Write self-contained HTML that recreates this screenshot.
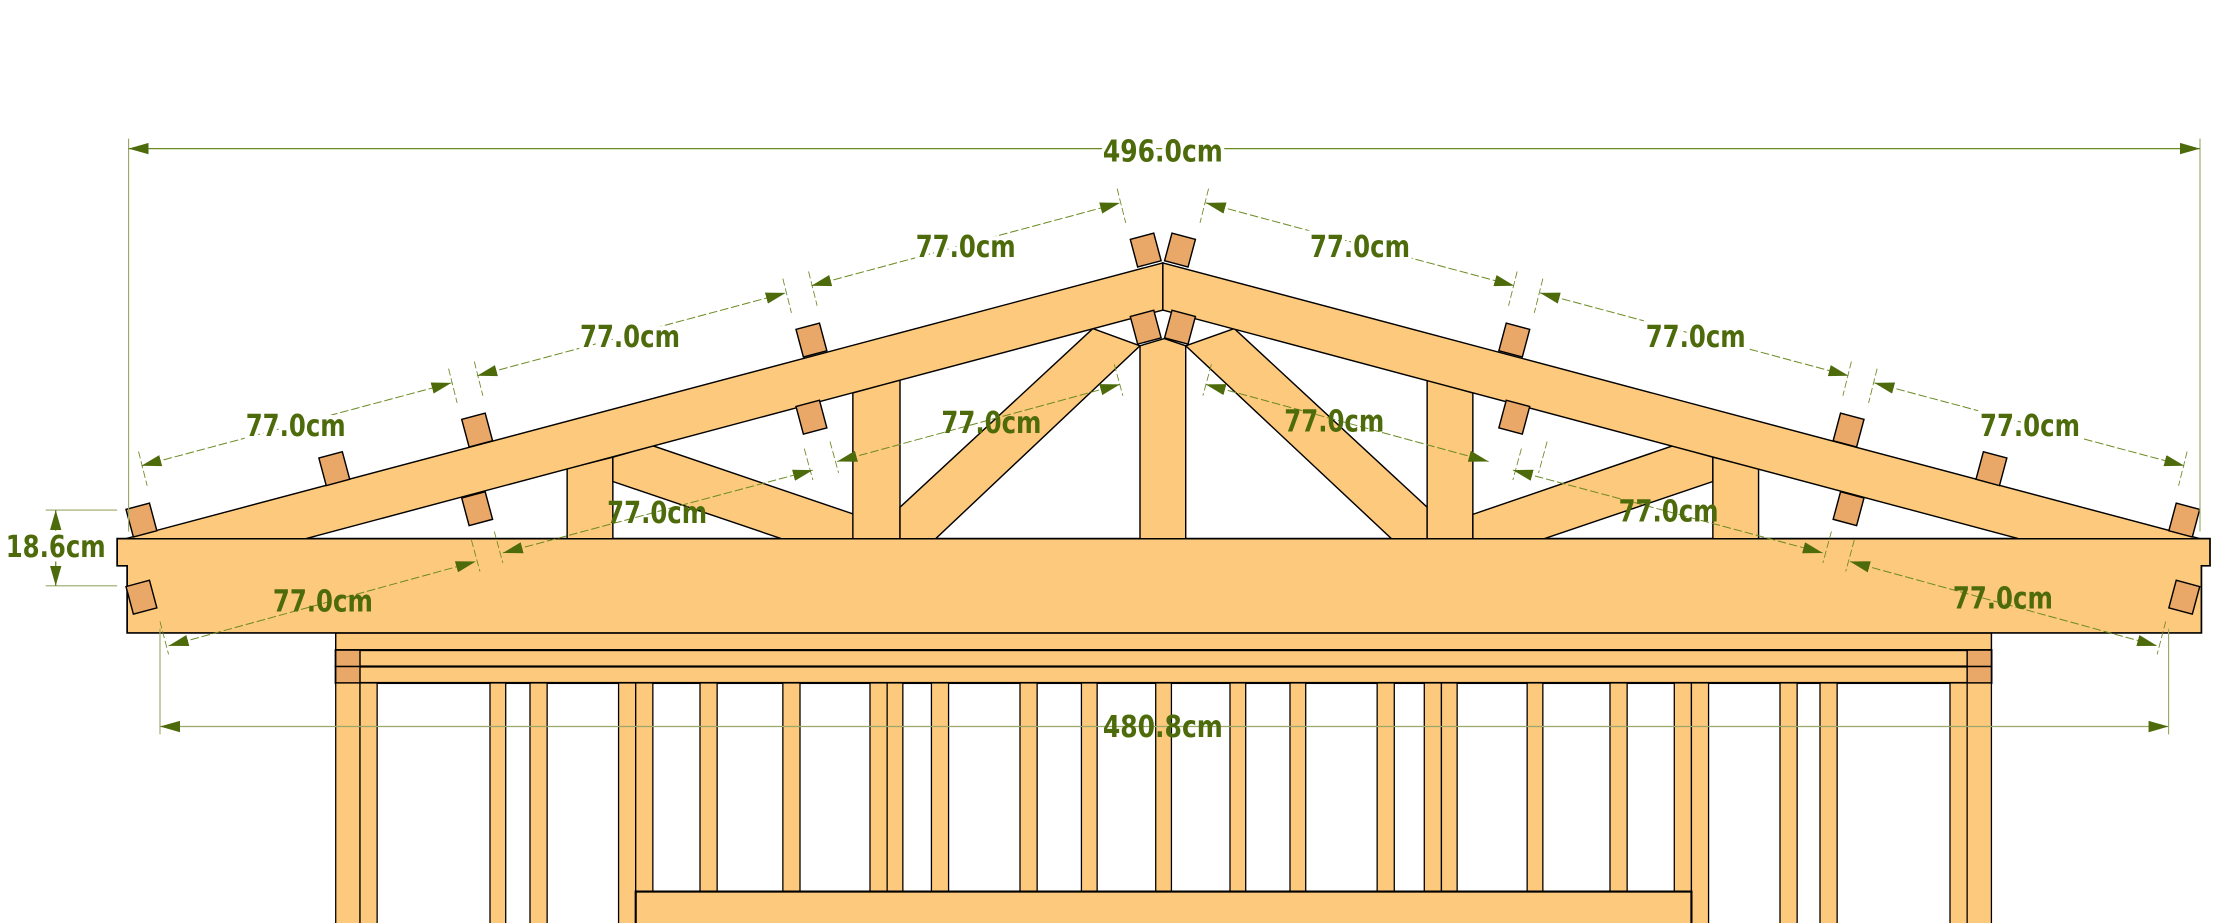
<!DOCTYPE html>
<html><head><meta charset="utf-8"><style>
html,body{margin:0;padding:0;background:#fff;}
svg{display:block;}
text{font-family:"DejaVu Sans","Liberation Sans",sans-serif;font-weight:bold;fill:#4e6b0c;font-size:21px;}
</style></head><body>
<svg width="2240" height="923" viewBox="0 0 1568 646" preserveAspectRatio="none" xmlns="http://www.w3.org/2000/svg">
<defs>
<marker id="ar" viewBox="0 0 14 8" refX="14" refY="4" markerWidth="14" markerHeight="8" markerUnits="userSpaceOnUse" orient="auto-start-reverse">
<path d="M0,0 L14,4 L0,8 Z" fill="#4e6b0c"/></marker>
</defs>

<g stroke="#000" stroke-width="1" fill="#fdc97c">
<rect x="235" y="443" width="1159" height="12"/>
<rect x="235" y="455" width="1159" height="11.5" stroke-width="1.5"/>
<rect x="235" y="466.5" width="1159" height="11.5" stroke-width="1.5"/>
<rect x="235" y="455" width="17" height="11.5" fill="#e9a867"/>
<rect x="235" y="466.5" width="17" height="11.5" fill="#e9a867"/>
<rect x="1377" y="455" width="17" height="11.5" fill="#e9a867"/>
<rect x="1377" y="466.5" width="17" height="11.5" fill="#e9a867"/>
<g stroke-width="0.9">
<rect x="235" y="478" width="17" height="170"/><rect x="252" y="478" width="12" height="170"/>
<rect x="343" y="478" width="11" height="170"/><rect x="371" y="478" width="12" height="170"/>
<rect x="433" y="478" width="12" height="170"/><rect x="445" y="478" width="12" height="146"/>
<rect x="490" y="478" width="12" height="146"/><rect x="548" y="478" width="12" height="146"/>
<rect x="609" y="478" width="12" height="146"/><rect x="621" y="478" width="11" height="146"/>
<rect x="652" y="478" width="12" height="146"/><rect x="714" y="478" width="12" height="146"/>
<rect x="757" y="478" width="11" height="146"/><rect x="809" y="478" width="11" height="146"/>
<rect x="861" y="478" width="11" height="146"/><rect x="903" y="478" width="11" height="146"/>
<rect x="964" y="478" width="12" height="146"/><rect x="997" y="478" width="12" height="146"/>
<rect x="1009" y="478" width="11" height="146"/><rect x="1069" y="478" width="11" height="146"/>
<rect x="1127" y="478" width="12" height="146"/><rect x="1172" y="478" width="12" height="146"/>
<rect x="1184" y="478" width="12" height="170"/><rect x="1246" y="478" width="12" height="170"/>
<rect x="1274" y="478" width="12" height="170"/><rect x="1365" y="478" width="12" height="170"/>
<rect x="1377" y="478" width="17" height="170"/>
</g>
<rect x="445" y="624" width="739" height="24" stroke-width="1.5"/>
</g>

<path d="M82,377 L1547,377 L1547,396 L1541,396 L1541,443 L89,443 L89,396 L82,396 Z" fill="#fdc97c" stroke="#000" stroke-width="1.2"/>

<g fill="#fdc97c" stroke="#000" stroke-width="1">
<polygon points="397,328 429,320 429,377 397,377"/>
<polygon points="429,320 457,312 598,360 598,377 547,377 429,337"/>
<polygon points="597,275 630,266 630,377 597,377"/>
<polygon points="798,242 765,230 630,355 630,377 655,377"/>
<polygon points="798,242 815,237 830,242 830,377 798,377"/>
<polygon points="830,242 864,230 999,355 999,377 974,377"/>
<polygon points="999,266 1031,275 1031,377 999,377"/>
<polygon points="1199,320 1171,312 1031,360 1031,377 1081,377 1199,337"/>
<polygon points="1199,320 1231,328 1231,377 1199,377"/>
<polygon points="88,377 814,184 814,217 214,377"/>
<polygon points="814,184 1540,377 1413,377 814,217"/>
</g>

<g fill="#e9a867" stroke="#000" stroke-width="1">
<rect x="-8.5" y="-10" width="17" height="20" transform="translate(99,364) rotate(-15)"/>
<rect x="-8.5" y="-10" width="17" height="20" transform="translate(234,328) rotate(-15)"/>
<rect x="-8.5" y="-10" width="17" height="20" transform="translate(334,301) rotate(-15)"/>
<rect x="-8.5" y="-10" width="17" height="20" transform="translate(568,238) rotate(-15)"/>
<rect x="-8.5" y="-10" width="17" height="20" transform="translate(802,175) rotate(-15)"/>
<rect x="-8.5" y="-10" width="17" height="20" transform="translate(334,356) rotate(-15)"/>
<rect x="-8.5" y="-10" width="17" height="20" transform="translate(568,292) rotate(-15)"/>
<rect x="-8.5" y="-10" width="17" height="20" transform="translate(802,229) rotate(-15)"/>
<rect x="-8.5" y="-10" width="17" height="20" transform="translate(99,418) rotate(-15)"/>
<rect x="-8.5" y="-10" width="17" height="20" transform="translate(826,175) rotate(15)"/>
<rect x="-8.5" y="-10" width="17" height="20" transform="translate(1060,238) rotate(15)"/>
<rect x="-8.5" y="-10" width="17" height="20" transform="translate(1294,301) rotate(15)"/>
<rect x="-8.5" y="-10" width="17" height="20" transform="translate(1394,328) rotate(15)"/>
<rect x="-8.5" y="-10" width="17" height="20" transform="translate(1529,364) rotate(15)"/>
<rect x="-8.5" y="-10" width="17" height="20" transform="translate(826,229) rotate(15)"/>
<rect x="-8.5" y="-10" width="17" height="20" transform="translate(1060,292) rotate(15)"/>
<rect x="-8.5" y="-10" width="17" height="20" transform="translate(1294,356) rotate(15)"/>
<rect x="-8.5" y="-10" width="17" height="20" transform="translate(1529,418) rotate(15)"/>
</g>

<g stroke="#9aa86a" stroke-width="0.8" fill="none">
<line x1="90" y1="97" x2="90" y2="372"/>
<line x1="1540" y1="97" x2="1540" y2="372"/>
<line x1="112" y1="440" x2="112" y2="514"/>
<line x1="1518" y1="440" x2="1518" y2="514"/>
<line x1="32" y1="357" x2="82" y2="357"/>
<line x1="32" y1="410" x2="82" y2="410"/>
</g>
<g stroke="#6b8a22" stroke-width="0.6" fill="none" stroke-dasharray="5,2">
<line x1="97" y1="316" x2="103" y2="340"/><line x1="314" y1="258" x2="320" y2="282"/>
<line x1="332" y1="253" x2="338" y2="277"/><line x1="548" y1="195" x2="554" y2="219"/>
<line x1="566" y1="190" x2="572" y2="214"/><line x1="782" y1="132" x2="788" y2="156"/>
<line x1="846" y1="132" x2="840" y2="156"/><line x1="1062" y1="190" x2="1056" y2="214"/>
<line x1="1080" y1="195" x2="1074" y2="219"/><line x1="1296" y1="253" x2="1290" y2="277"/>
<line x1="1314" y1="258" x2="1308" y2="282"/><line x1="1531" y1="316" x2="1525" y2="340"/>
<line x1="346" y1="372" x2="352" y2="394"/><line x1="563" y1="314" x2="569" y2="336"/>
<line x1="581" y1="309" x2="587" y2="331"/><line x1="780" y1="255" x2="786" y2="277"/>
<line x1="848" y1="255" x2="842" y2="277"/><line x1="1065" y1="314" x2="1059" y2="336"/>
<line x1="1083" y1="309" x2="1077" y2="331"/><line x1="1282" y1="372" x2="1276" y2="394"/>
<line x1="112" y1="435" x2="118" y2="458"/><line x1="330" y1="378" x2="336" y2="400"/>
<line x1="1298" y1="378" x2="1292" y2="400"/><line x1="1516" y1="435" x2="1510" y2="458"/>
</g>

<g stroke="#6b8a22" stroke-width="0.9" fill="none">
<line x1="90" y1="104" x2="1540" y2="104" marker-start="url(#ar)" marker-end="url(#ar)"/>
<line x1="112" y1="508.5" x2="1518" y2="508.5" stroke="#9aa86a" marker-start="url(#ar)" marker-end="url(#ar)"/>
<line x1="39" y1="357" x2="39" y2="410" marker-start="url(#ar)" marker-end="url(#ar)"/>
</g>
<g stroke="#6b8a22" stroke-width="0.7" fill="none" stroke-dasharray="6,2">
<line x1="99" y1="326" x2="316" y2="268" marker-start="url(#ar)" marker-end="url(#ar)"/>
<line x1="334" y1="263" x2="550" y2="205" marker-start="url(#ar)" marker-end="url(#ar)"/>
<line x1="568" y1="200" x2="784" y2="142" marker-start="url(#ar)" marker-end="url(#ar)"/>
<line x1="844" y1="142" x2="1060" y2="200" marker-start="url(#ar)" marker-end="url(#ar)"/>
<line x1="1078" y1="205" x2="1294" y2="263" marker-start="url(#ar)" marker-end="url(#ar)"/>
<line x1="1312" y1="268" x2="1529" y2="326" marker-start="url(#ar)" marker-end="url(#ar)"/>
<line x1="352" y1="387" x2="569" y2="329" marker-start="url(#ar)" marker-end="url(#ar)"/>
<line x1="586" y1="323" x2="784" y2="269" marker-start="url(#ar)" marker-end="url(#ar)"/>
<line x1="844" y1="269" x2="1042" y2="323" marker-start="url(#ar)" marker-end="url(#ar)"/>
<line x1="1059" y1="329" x2="1276" y2="387" marker-start="url(#ar)" marker-end="url(#ar)"/>
<line x1="118" y1="452" x2="333" y2="393" marker-start="url(#ar)" marker-end="url(#ar)"/>
<line x1="1295" y1="393" x2="1510" y2="452" marker-start="url(#ar)" marker-end="url(#ar)"/>
</g>

<g text-anchor="middle">
<text x="814" y="113" textLength="84" lengthAdjust="spacingAndGlyphs" style="paint-order:stroke;stroke:#fff;stroke-width:6px">496.0cm</text>
<text x="814" y="516" textLength="84" lengthAdjust="spacingAndGlyphs">480.8cm</text>
<text x="39" y="390" textLength="70" lengthAdjust="spacingAndGlyphs" style="paint-order:stroke;stroke:#fff;stroke-width:6px">18.6cm</text>
<text x="207" y="305" textLength="70" lengthAdjust="spacingAndGlyphs" style="paint-order:stroke;stroke:#fff;stroke-width:6px">77.0cm</text>
<text x="441" y="243" textLength="70" lengthAdjust="spacingAndGlyphs" style="paint-order:stroke;stroke:#fff;stroke-width:6px">77.0cm</text>
<text x="676" y="180" textLength="70" lengthAdjust="spacingAndGlyphs" style="paint-order:stroke;stroke:#fff;stroke-width:6px">77.0cm</text>
<text x="952" y="180" textLength="70" lengthAdjust="spacingAndGlyphs" style="paint-order:stroke;stroke:#fff;stroke-width:6px">77.0cm</text>
<text x="1187" y="243" textLength="70" lengthAdjust="spacingAndGlyphs" style="paint-order:stroke;stroke:#fff;stroke-width:6px">77.0cm</text>
<text x="1421" y="305" textLength="70" lengthAdjust="spacingAndGlyphs" style="paint-order:stroke;stroke:#fff;stroke-width:6px">77.0cm</text>
<text x="460" y="366" textLength="70" lengthAdjust="spacingAndGlyphs">77.0cm</text>
<text x="694" y="303" textLength="70" lengthAdjust="spacingAndGlyphs">77.0cm</text>
<text x="934" y="302" textLength="70" lengthAdjust="spacingAndGlyphs">77.0cm</text>
<text x="1168" y="365" textLength="70" lengthAdjust="spacingAndGlyphs">77.0cm</text>
<text x="226" y="428" textLength="70" lengthAdjust="spacingAndGlyphs">77.0cm</text>
<text x="1402" y="426" textLength="70" lengthAdjust="spacingAndGlyphs">77.0cm</text>
</g>
</svg>
</body></html>
